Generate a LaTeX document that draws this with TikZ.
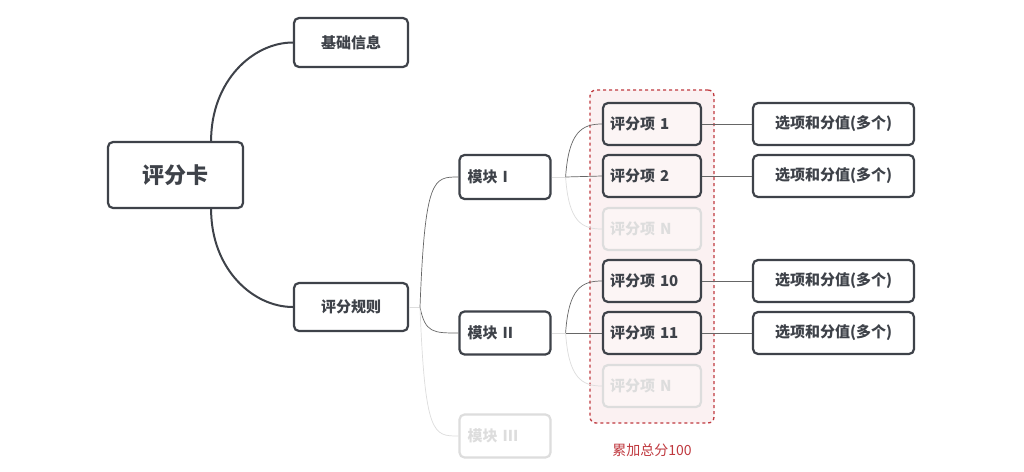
\documentclass[tikz,border=0pt]{standalone}
\usepackage{fontspec}
\setmainfont{Open Sans}
\newfontfamily\cjk{Noto Sans CJK SC}
\begin{document}
\begin{tikzpicture}[x=1pt,y=-1pt,
  box/.style={draw=dk,line width=2.2pt,rounded corners=5pt,fill=white,font=\cjk\bfseries\fontsize{15}{15}\selectfont,text=dk,inner sep=0pt},
  faded/.style={box,draw=fd,text=fd},
  thick/.style={draw=dk,line width=2pt},
  thin/.style={draw=gray!80!black,line width=0.7pt},
  fl/.style={draw=fd,line width=0.7pt}]
\definecolor{dk}{HTML}{3E4249}
\definecolor{fd}{HTML}{DDDDDD}
\definecolor{rd}{HTML}{C0393F}
\useasboundingbox (0,0) rectangle (1024,471);
\fill[white] (0,0) rectangle (1024,471);
\node[draw=rd,dashed,line width=1.3pt,rounded corners=6pt,fill=rd!7,minimum width=124pt,minimum height=333pt] (grp) at (652,256.5) {};
\node[box,minimum width=135pt,minimum height=66pt,font=\cjk\bfseries\fontsize{22}{22}\selectfont] (card) at (175.5,175) {评分卡};
\node[box,minimum width=114pt,minimum height=49pt] (base) at (351,42.5) {基础信息};
\node[box,minimum width=114pt,minimum height=48pt] (rule) at (351,307) {评分规则};
\node[box,minimum width=91pt,minimum height=44pt,text width=75pt] (m1) at (505,177) {模块 I};
\node[box,minimum width=91pt,minimum height=43pt,text width=75pt] (m2) at (505,333) {模块 II};
\node[faded,minimum width=91pt,minimum height=43pt,text width=75pt] (m3) at (505,436) {模块 III};
\foreach \n/\y/\t in {i1/124/评分项 1,i2/176/评分项 2,i10/281/评分项 10,i11/333/评分项 11}
  \node[box,fill=rd!5,minimum width=98pt,minimum height=42pt,text width=84pt] (\n) at (652,\y) {\t};
\foreach \n/\y in {in1/229,in2/386}
  \node[faded,fill=rd!5,minimum width=98pt,minimum height=42pt,text width=84pt] (\n) at (652,\y) {评分项 N};
\foreach \n/\s in {o1/i1,o2/i2,o10/i10,o11/i11}{
  \node[box,minimum width=161pt,minimum height=42pt] (\n) at (833.5,0 |- \s) {选项和分值(多个)};
  \draw[thin] (\s.east) -- (\n.west);}
\node[text=rd,font=\cjk\fontsize{14}{14}\selectfont] (lbl) at (652,450) {累加总分100};
% main connectors
\draw[thick] ([xshift=-33pt]card.north east) .. controls +(0,-60) and +(-40,0) .. (base.west);
\draw[thick] ([xshift=-33pt]card.south east) .. controls +(0,60) and +(-40,0) .. (rule.west);
\coordinate (h0) at (420,307);
\draw[fl] (rule.east) -- (h0);
\draw[thin] (h0) .. controls +(5,-130) and +(-25,0) .. (m1.west);
\draw[thin] (h0) .. controls +(5,26) and +(-25,0) .. (m2.west);
\draw[fl] (h0) .. controls +(5,129) and +(-25,0) .. (m3.west);
\foreach \m/\a/\b/\c in {m1/i1/i2/in1,m2/i10/i11/in2}{
  \coordinate (h) at ([xshift=14pt]\m.east);
  \draw[fl] (\m.east) -- (h);
  \draw[fl] (h) .. controls +(3,45) and +(-20,0) .. (\c.west);
  \draw[thin] (h) .. controls +(3,-45) and +(-20,0) .. (\a.west);
  \draw[thin] (h) -- (\b.west);}
\end{tikzpicture}
\end{document}
